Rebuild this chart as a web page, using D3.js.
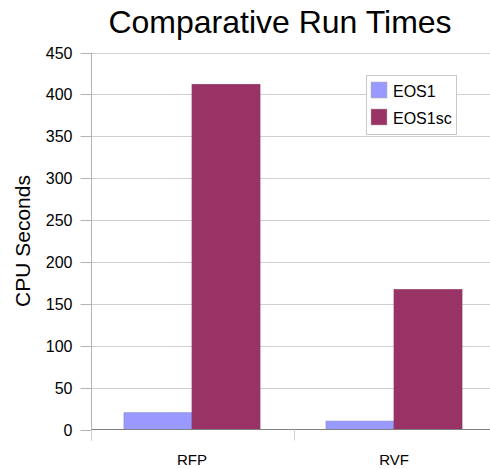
<!DOCTYPE html>
<html><head><meta charset="utf-8">
<script src="https://cdn.jsdelivr.net/npm/d3@7"></script>
<style>body{margin:0;background:#fff}svg{display:block;font-family:"Liberation Sans",Arial,sans-serif}</style>
</head><body>
<svg id="c" width="490" height="469"></svg>
<script>
const categories = ["RFP", "RVF"];
const seriesNames = ["EOS1", "EOS1sc"];
const eos1 = [20, 10];
const eos1sc = [412, 167];
const yTicks = [0, 50, 100, 150, 200, 250, 300, 350, 400, 450];
const colors = ["#9999ff", "#993366"];

(function () {
const svg = d3.select("#c");
const pL = 91, pR = 495, pT = 52.5, pB = 429.5;
const y = d3.scaleLinear().domain([0, 450]).range([pB, pT]);
const x0 = d3.scaleBand().domain(categories).range([pL, pR]).padding(0);
const x1 = d3.scaleBand().domain(seriesNames).range([0, x0.bandwidth()]).paddingInner(0).paddingOuter(0.485);
const values = [eos1, eos1sc];

// gridlines
svg.append("g").selectAll("line").data(yTicks.filter(d => d > 0)).join("line")
  .attr("x1", pL).attr("x2", 490).attr("y1", d => Math.round(y(d)) + 0.5).attr("y2", d => Math.round(y(d)) + 0.5)
  .attr("stroke", "#d0d0d0").attr("stroke-width", 1);

// y axis
const yAxis = d3.axisLeft(y).tickValues(yTicks).tickSize(11).tickPadding(8).tickSizeOuter(0);
const ga = svg.append("g").attr("transform", `translate(${pL + 0.5},0)`).call(yAxis);
ga.select(".domain").attr("stroke", "#b3b3b3").attr("d", `M0,${pT}V${pB + 11}`);
ga.selectAll(".tick line").attr("stroke", "#b3b3b3");
ga.selectAll(".tick text").attr("font-size", 16).attr("fill", "#000").attr("font-family", "Liberation Sans, Arial, sans-serif");
ga.selectAll(".tick").attr("transform", d => `translate(0,${Math.round(y(d)) + 0.5})`);

// bars
const groups = svg.append("g").selectAll("g").data(categories).join("g")
  .attr("transform", d => `translate(${x0(d)},0)`);
groups.selectAll("rect").data((c, ci) => seriesNames.map((s, si) => ({s, si, v: values[si][ci]}))).join("rect")
  .attr("x", d => x1(d.s)).attr("width", x1.bandwidth())
  .attr("y", d => y(d.v)).attr("height", d => pB - y(d.v))
  .attr("fill", d => colors[d.si])
  .attr("stroke", d => d.si === 0 ? "#8a8ad8" : "#8a3c62").attr("stroke-width", 0.7);

// x axis
const xAxis = d3.axisBottom(x0).tickSize(0).tickPadding(25);
const gx = svg.append("g").attr("transform", `translate(0,${pB})`).call(xAxis);
gx.select(".domain").remove();
gx.selectAll(".tick text").attr("font-size", 15).attr("fill", "#000").attr("font-family", "Liberation Sans, Arial, sans-serif");
svg.append("line").attr("x1", pL).attr("x2", 490).attr("y1", pB).attr("y2", pB).attr("stroke", "#808080");
svg.append("g").selectAll("line").data(categories).join("line")
  .attr("x1", d => x0(d) + 0.5 + (d === categories[0] ? 0 : 1)).attr("x2", d => x0(d) + 0.5 + (d === categories[0] ? 0 : 1))
  .attr("y1", pB).attr("y2", pB + 11).attr("stroke", "#d0d0d0");

// title
svg.append("text").attr("x", 280).attr("y", 33).attr("text-anchor", "middle")
  .attr("font-size", 32).text("Comparative Run Times");

// y label
svg.append("text").attr("transform", "translate(30,241) rotate(-90)").attr("text-anchor", "middle")
  .attr("font-size", 21).text("CPU Seconds");

// legend
const lg = svg.append("g");
lg.append("rect").attr("x", 366.5).attr("y", 75.5).attr("width", 90).attr("height", 59)
  .attr("fill", "#fff").attr("stroke", "#c8c8c8");
seriesNames.forEach((s, i) => {
  lg.append("rect").attr("x", 371).attr("y", 82 + i * 27).attr("width", 16).attr("height", 16)
    .attr("fill", colors[i]).attr("stroke", "#b0b0b0").attr("stroke-width", 0.5);
  lg.append("text").attr("x", 393).attr("y", 97 + i * 27).attr("font-size", 16).text(s);
});
})();
</script>
</body></html>
